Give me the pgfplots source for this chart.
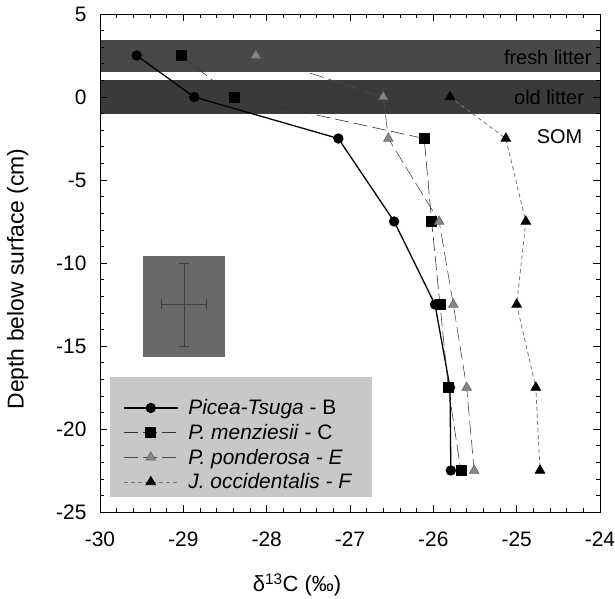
\documentclass[border=0pt]{standalone}
\usepackage{fontspec}
\setmainfont{Liberation Sans}
\usepackage{pgfplots}
\pgfplotsset{compat=1.18}
\definecolor{bandA}{RGB}{72,72,72}
\definecolor{bandB}{RGB}{58,58,58}
\definecolor{legbg}{RGB}{200,200,200}
\definecolor{boxg}{RGB}{105,105,105}
\definecolor{trigray}{RGB}{135,135,135}
\begin{document}
\begin{tikzpicture}
\begin{axis}[
  scale only axis, width=500bp, height=498bp,
  xmin=-30, xmax=-24, ymin=-25, ymax=5,
  xtick={-30,-29,...,-24}, ytick={-25,-20,...,5},
  yticklabels={-25\hspace{19bp},-20,-15,-10,-5,0,5},
  minor x tick num=4, minor y tick num=4,
  major tick length=7bp, minor tick length=4bp,
  tick style={black, line width=0.6pt},
  axis line style={black, line width=0.8pt},
  /pgf/number format/assume math mode=true,
  ticklabel style={font=\fontsize{21}{24}\selectfont},
  xticklabel style={yshift=-16bp},
  yticklabel style={xshift=-10bp},
  xlabel={δ\textsuperscript{13}C (‰)},
  ylabel={Depth below surface (cm)},
  every axis x label/.style={at={(rel axis cs:0.394,0)}, anchor=north, yshift=-58bp, font=\fontsize{22}{26}\selectfont},
  every axis y label/.style={at={(rel axis cs:0,0.468)}, rotate=90, anchor=south, yshift=68bp, font=\fontsize{23}{26}\selectfont},
  axis on top,
  legend style={at={(rel axis cs:0.046,0.23)}, anchor=north west, fill=none, draw=none,
    font=\fontsize{21}{24}\selectfont, inner sep=0bp, row sep=4bp,
    /tikz/every odd column/.append style={column sep=8bp}},
  legend cell align=left,
  legend image code/.code={\draw[mark repeat=2,mark phase=2,#1] plot coordinates {(0cm,0cm) (0.95cm,0cm) (1.9cm,0cm)};},
]
% bands
\addplot[fill=bandA, draw=none, forget plot] coordinates {(-30,1.5) (-24,1.5) (-24,3.45) (-30,3.45)} -- cycle;
\addplot[fill=bandB, draw=none, forget plot] coordinates {(-30,-1.0) (-24,-1.0) (-24,1.0) (-30,1.0)} -- cycle;
% legend background
\addplot[fill=legbg, draw=none, forget plot] coordinates {(-29.88,-16.87) (-26.74,-16.87) (-26.74,-24.1) (-29.88,-24.1)} -- cycle;
% error box
\addplot[fill=boxg, draw=none, forget plot] coordinates {(-29.48,-9.6) (-28.5,-9.6) (-28.5,-15.65) (-29.48,-15.65)} -- cycle;
\addplot[forget plot, mark=none, error bars/.cd, x dir=both, x explicit, y dir=both, y explicit,
  error bar style={black!75, line width=0.8pt}, error mark options={rotate=90, mark size=5bp, black!75, line width=0.8pt}]
  coordinates {(-28.99,-12.5) +- (0.27,2.5)};
\node[anchor=east, font=\fontsize{20}{22}\selectfont] at (axis cs:-24.06,2.4) {fresh litter};
\node[anchor=east, font=\fontsize{20}{22}\selectfont] at (axis cs:-24.15,0) {old litter};
\node[anchor=east, font=\fontsize{20}{22}\selectfont] at (axis cs:-24.17,-2.4) {SOM};
% series
\addplot[black, line width=1.3pt, mark=*, mark size=4.5bp] coordinates {
  (-29.56,2.5) (-28.87,0) (-27.14,-2.5) (-26.47,-7.5) (-25.98,-12.5) (-25.8,-17.5) (-25.79,-22.5)};
\addlegendentry{\textit{Picea-Tsuga} - B}
\addplot[black!80, line width=0.6pt, dash pattern=on 14bp off 5bp, mark=square*, mark size=5bp, mark options={solid, fill=black, draw=black}] coordinates {
  (-29.03,2.5) (-28.39,0) (-26.11,-2.5) (-26.02,-7.5) (-25.92,-12.5) (-25.82,-17.5) (-25.67,-22.5)};
\addlegendentry{\textit{P. menziesii} - C}
\addplot[black!70, line width=0.6pt, dash pattern=on 14bp off 5bp, mark=triangle*, mark size=5.5bp, mark options={solid, fill=trigray, draw=black!60}] coordinates {
  (-28.13,2.5) (-26.6,0) (-26.54,-2.5) (-25.93,-7.5) (-25.76,-12.5) (-25.6,-17.5) (-25.51,-22.5)};
\addlegendentry{\textit{P. ponderosa - E}}
\addplot[black!55, line width=0.8pt, dash pattern=on 4bp off 3bp, mark=triangle*, mark size=5.5bp, mark options={solid, fill=black, draw=black}] coordinates {
  (-25.8,0) (-25.13,-2.5) (-24.89,-7.5) (-25.0,-12.5) (-24.77,-17.5) (-24.72,-22.5)};
\addlegendentry{\textit{J. occidentalis - F}}
\end{axis}
\pgfresetboundingbox
\path ([shift={(-100bp,-87bp)}]current axis.south west) rectangle ([shift={(15bp,14bp)}]current axis.north east);
\end{tikzpicture}
\end{document}
